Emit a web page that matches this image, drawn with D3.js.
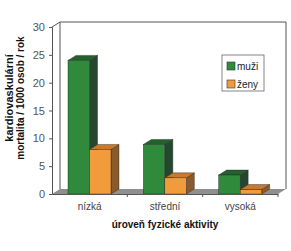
<!DOCTYPE html>
<html>
<head>
<meta charset="utf-8">
<script src="https://cdn.jsdelivr.net/npm/d3@7"></script>
<style>
  body { margin: 0; background: #fff; }
  text { font-family: "Liberation Sans", Arial, sans-serif; }
</style>
</head>
<body>
<script>
var categories = ["nízká", "střední", "vysoká"];
var seriesNames = ["muži", "ženy"];
var muzi = [24, 8.9, 3.4];
var zeny = [8, 2.9, 0.8];
var yTicks = [0, 5, 10, 15, 20, 25, 30];

var W = 291, H = 251;
var plotL = 52, plotR = 278, plotB = 194, plotT = 27;
var dx = 8, dy = 5;   // 3d depth

var colors = {
    "muži": { front: "#2f8a3c", top: "#24612f", side: "#26472f" },
    "ženy": { front: "#f29b3b", top: "#c77b31", side: "#8a5a2b" }
};

var svg = d3.select("body").append("svg")
    .attr("width", W)
    .attr("height", H);

var y = d3.scaleLinear().domain([0, 30]).range([plotB, plotT]);
var x0 = d3.scaleBand().domain(categories).range([plotL, plotR]);
var x1 = d3.scaleBand().domain(seriesNames).range([16, 59]);

// back wall + floor
svg.append("path")
    .attr("d", "M" + (plotL + dx) + "," + (plotB - dy) + "V" + (plotT - dy) + "H" + (plotR + dx) + "V" + (plotB - dy))
    .attr("fill", "none")
    .attr("stroke", "#555")
    .attr("stroke-width", 1);

svg.append("polygon")
    .attr("points", [[plotL, plotB], [plotL + dx, plotB - dy], [plotR + dx, plotB - dy], [plotR, plotB]].join(" "))
    .attr("fill", "#8f8f8f");

svg.append("line")
    .attr("x1", plotL).attr("y1", plotT).attr("x2", plotL + dx).attr("y2", plotT - dy)
    .attr("stroke", "#555");

// bars
var data = [];
categories.forEach(function(c, i) {
    data.push({ cat: c, s: "muži", v: muzi[i] });
    data.push({ cat: c, s: "ženy", v: zeny[i] });
});

data.forEach(function(d) {
    var bx = x0(d.cat) + x1(d.s);
    var bw = x1.bandwidth();
    var by = y(d.v);
    var c = colors[d.s];
    var g = svg.append("g");
    g.append("polygon")
        .attr("points", [[bx + bw, by], [bx + bw + dx, by - dy], [bx + bw + dx, plotB - dy], [bx + bw, plotB]].join(" "))
        .attr("fill", c.side).attr("stroke", "#222").attr("stroke-width", 0.4);
    g.append("polygon")
        .attr("points", [[bx, by], [bx + dx, by - dy], [bx + bw + dx, by - dy], [bx + bw, by]].join(" "))
        .attr("fill", c.top).attr("stroke", "#222").attr("stroke-width", 0.4);
    g.append("rect")
        .attr("x", bx).attr("y", by)
        .attr("width", bw).attr("height", plotB - by)
        .attr("fill", c.front).attr("stroke", "#222").attr("stroke-width", 0.4);
});

// axes
var yAxis = svg.append("g")
    .attr("transform", "translate(" + plotL + ",0)")
    .call(d3.axisLeft(y).tickValues(yTicks).tickSize(3).tickPadding(4));
yAxis.select(".domain").attr("stroke", "#555");
yAxis.selectAll(".tick line").attr("stroke", "#555");
yAxis.selectAll("text")
    .style("font-family", "Liberation Sans, Arial, sans-serif")
    .style("font-size", "11px")
    .attr("fill", "#555");

var xAxis = svg.append("g")
    .attr("transform", "translate(0," + plotB + ")")
    .call(d3.axisBottom(x0).tickSize(0).tickPadding(9));
xAxis.select(".domain").attr("stroke", "#555");
xAxis.selectAll("text")
    .style("font-family", "Liberation Sans, Arial, sans-serif")
    .style("font-size", "10px")
    .attr("fill", "#444");

svg.append("g").selectAll("line")
    .data(categories.slice(1).concat(["end"]))
    .join("line")
    .attr("x1", function(d) { return d === "end" ? plotR : x0(d); })
    .attr("x2", function(d) { return d === "end" ? plotR : x0(d); })
    .attr("y1", plotB).attr("y2", plotB + 3)
    .attr("stroke", "#555");

// titles
svg.append("text")
    .attr("x", (plotL + plotR) / 2)
    .attr("y", 228)
    .attr("text-anchor", "middle")
    .style("font-size", "10px")
    .style("font-weight", "bold")
    .attr("fill", "#111")
    .text("úroveň fyzické aktivity");

var yt = svg.append("text")
    .attr("transform", "translate(13,98) rotate(-90)")
    .attr("text-anchor", "middle")
    .style("font-weight", "bold")
    .attr("fill", "#111");
yt.append("tspan").attr("x", 0).attr("y", 0).style("font-size", "11px").text("kardiovaskulární");
yt.append("tspan").attr("x", 0).attr("y", 11).style("font-size", "10px").text("mortalita / 1000 osob / rok");

// legend
var lg = svg.append("g").attr("transform", "translate(222,55)");
lg.append("rect")
    .attr("width", 42).attr("height", 36)
    .attr("fill", "#fff").attr("stroke", "#666").attr("stroke-width", 0.8);
seriesNames.forEach(function(s, i) {
    lg.append("rect")
        .attr("x", 5).attr("y", 7 + i * 18)
        .attr("width", 8).attr("height", 8)
        .attr("fill", colors[s].front).attr("stroke", "#333").attr("stroke-width", 0.6);
    lg.append("text")
        .attr("x", 15).attr("y", 15 + i * 18)
        .style("font-size", "10px")
        .attr("fill", "#222")
        .text(s);
});
</script>
</body>
</html>
